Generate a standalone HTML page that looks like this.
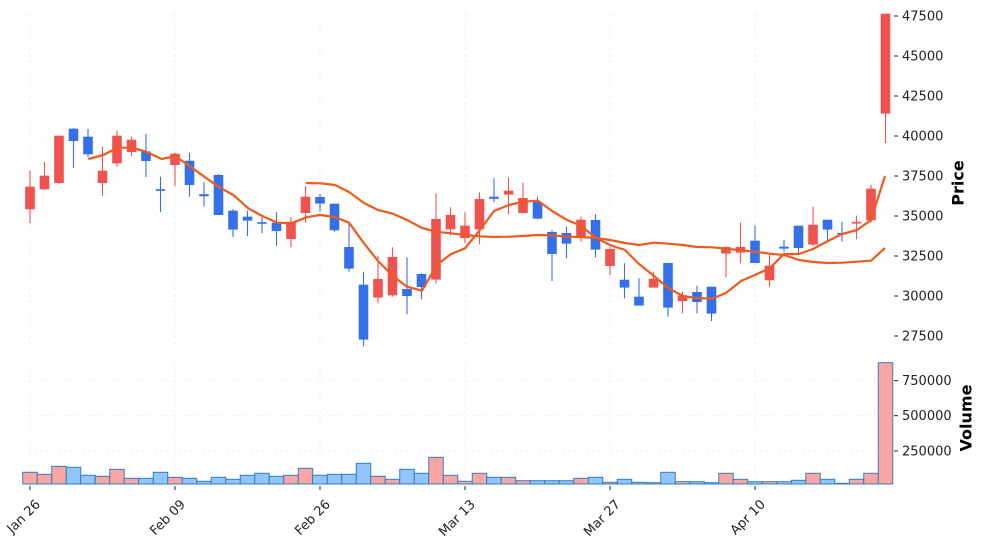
<!DOCTYPE html>
<html><head><meta charset="utf-8"><style>
html,body{margin:0;padding:0;background:#fff;}
svg{display:block;font-family:"DejaVu Sans","Liberation Sans",sans-serif;}
</style></head><body>
<svg id="s" width="987" height="549" viewBox="0 0 987 549" xmlns="http://www.w3.org/2000/svg">
<g id="grid" stroke="#ececec" stroke-width="0.7" stroke-dasharray="3,3"></g>
<g id="vol"></g>
<g id="cand"></g>
<g id="ma" fill="none" stroke="#f05a1e" stroke-width="2.2" stroke-linejoin="round"></g>
<g id="ax" font-size="13" fill="#222"></g>
<text x="959" y="183" font-size="16" font-weight="bold" text-anchor="middle" transform="rotate(-90 959 183)" dominant-baseline="middle">Price</text>
<text x="967" y="418" font-size="16" font-weight="bold" text-anchor="middle" transform="rotate(-90 967 418)" dominant-baseline="middle">Volume</text>
</svg>
<script>
var NS="http://www.w3.org/2000/svg";
function el(p,t,a,txt){var e=document.createElementNS(NS,t);for(var k in a)e.setAttribute(k,a[k]);if(txt!=null)e.textContent=txt;document.getElementById(p).appendChild(e);return e;}
var C=[
[170.7,223,187,209,'r'],[161.7,190,176,189,'r'],[135.7,184,136,182.7,'r'],[128,168,129,140.7,'b'],[129,157,137,154,'b'],
[146.7,196,171,182.7,'r'],[130.7,167,136,163,'r'],[136.7,156,140,151.7,'r'],[134,177,151.7,160.7,'b'],[176.7,212,189.5,190.5,'b'],
[152.7,186,154,164.7,'r'],[153,196.7,161,184.7,'b'],[182,206.7,194.5,196,'b'],[174,215,175.3,214.7,'b'],[209,237,211,229.3,'b'],
[210.7,236,217,220.3,'b'],[217,233.3,222.5,223.5,'b'],[212,245.7,223,230.7,'b'],[217,247.3,222,238.7,'r'],[186,222.7,197,212.7,'r'],
[194,211.7,197.3,203.3,'b'],[204,231.7,204,230,'b'],[224,271.7,247.3,268.3,'b'],[271.7,346.7,285,339.3,'b'],[256,303.3,279.3,297.3,'r'],
[247.3,296.7,257.3,295,'r'],[257.3,314.3,289.3,295.7,'b'],[273.3,299.3,274.3,286.7,'b'],[193.3,283.3,219.3,279.3,'r'],[207.3,235.7,215.3,229,'r'],
[212.3,243.3,226,237.7,'r'],[192.3,244.3,199.3,229,'r'],[178.3,202.3,197,198.5,'b'],[177.3,214.3,191,194.3,'r'],[182.3,212.7,198.3,212.7,'r'],
[196.7,219.3,202.3,218.3,'b'],[230,281,232.3,253.7,'b'],[226.7,258.3,233.3,243.3,'b'],[216.7,241.7,220,236,'r'],[214.3,257.3,220.3,249.3,'b'],
[246.7,275,249.3,265.7,'r'],[263.3,298.3,280,287.3,'b'],[278.3,305,297,305.3,'b'],[271.7,286.7,279,287.3,'r'],[263.3,316.7,263.3,307.3,'b'],
[291.7,313.3,295.7,300.7,'r'],[285.7,313.3,292.3,301.7,'b'],[286.7,321,287,313.3,'b'],[246.7,277.3,247.3,253.3,'r'],[222.3,263.3,247.3,252.3,'r'],
[225.7,262.7,241,262.7,'b'],[254,286.7,266,280,'r'],[240,251.7,247,248.3,'b'],[226,253.3,226,247.7,'b'],[206.7,246,225,244.3,'r'],
[220,240.7,220,229.3,'b'],[221.7,241.7,233.2,234.2,'b'],[215.7,239.3,222.2,223.2,'r'],[185,222.7,189,220,'r'],[14,143,14,113.3,'r']];
var V=[472.3,474.3,466.3,467.3,475.3,476.3,469.3,478.3,478.3,472.3,477.3,478.3,481.3,477.3,479.3,475.3,473.3,476.3,475.3,468.3,
475.3,474.3,474.3,463.3,476.3,479.3,469.3,473.3,457.3,475.3,481.3,473.3,477.3,477.3,480.7,480.7,480.7,480.7,478.3,477.3,
482.3,479.3,482.3,482.7,472.3,481.7,481.7,482.7,473.3,479.3,481.7,481.7,481.7,480.3,473.3,479.3,483.3,479.3,473.3,362.7];
function X(i){return 30+14.5*i;}
[16,56,96,136,176,216,256,296,336].forEach(function(y){el('grid','line',{x1:22,x2:893,y1:y,y2:y});});
[380.7,415.7,451].forEach(function(y){el('grid','line',{x1:22,x2:893,y1:y,y2:y});});
[0,10,20,30,40,50].forEach(function(i){var x=X(i);el('grid','line',{x1:x,x2:x,y1:12,y2:345});el('grid','line',{x1:x,x2:x,y1:362,y2:484});});
V.forEach(function(t,i){el('vol','rect',{x:X(i)-7.25,y:t,width:14.5,height:484-t,fill:C[i][4]=='r'?'#fca5a5':'#93c5fd',stroke:'#2f80c0','stroke-width':1});});
C.forEach(function(c,i){var x=X(i),col=c[4]=='r'?'#ef5350':'#3370ea';
el('cand','line',{x1:x,x2:x,y1:c[0],y2:c[1],stroke:col,'stroke-width':1.1});
el('cand','rect',{x:x-4.5,y:c[2],width:9,height:Math.max(1,c[3]-c[2]),fill:col,stroke:col,'stroke-width':0.6});});
var A=[[306,183],[320,183.3],[335,185],[349,192],[364,203],[378,210],[393,213.7],[407,220],[422,228],[436,231.7],[451,233.3],[465,235],[480,236.3],[494,237],[509,236.7],[523,236],[538,235],[552,235.3],[567,236.7],[581,237],[596,238],[610,240],[625,243],[639,245],[654,242.7],[668,243.7],[683,245],[697,247],[712,247.3],[726,248.7],[741,250.3],[755,251.7],[770,253.7],[784,255],[799,260],[813,262],[828,263],[842,262.7],[857,261.7],[871,260.7],[885,248]];
var B=[[88.3,159],[103.3,155],[117.3,147.7],[132.3,147.7],[146,151.7],[161.7,159],[175.3,156],[190.3,166.7],[204.3,176.7],[219.3,187.3],[233.3,195],[248.3,208.3],[262.3,216],[277.3,222.7],[291.3,223.3],[306.3,217.3],[320,215],[335,217],[349,222.7],[364,243.3],[378,261],[393,276],[407,286.7],[422,290.7],[436.7,265],[450.7,254.3],[465,248.3],[480,230],[494,211],[509,205],[523,201.7],[538,200.7],[552,211],[567,220],[581,225.7],[596,238],[610,245],[625,250],[639,264],[654,276],[668,288],[683,296],[697,298],[712,298.7],[726,293],[741,281],[755,275],[770,268],[784,254],[799,254],[813,249],[828,241],[842,234],[857,230],[871,220],[885,176]];
[A,B].forEach(function(p){el('ma','polyline',{points:p.map(function(q){return q.join(',');}).join(' ')});});
var P=[[47500,16],[45000,56],[42500,96],[40000,136],[37500,176],[35000,216],[32500,256],[30000,296],[27500,336]];
P.forEach(function(p){el('ax','line',{x1:894,x2:898,y1:p[1],y2:p[1],stroke:'#222','stroke-width':1});el('ax','text',{x:902,y:p[1]+4.5},p[0]);});
[[750000,380.7],[500000,415.7],[250000,451]].forEach(function(p){el('ax','line',{x1:894,x2:898,y1:p[1],y2:p[1],stroke:'#222','stroke-width':1});el('ax','text',{x:902,y:p[1]+4.5},p[0]);});
var L=['Jan 26','Feb 09','Feb 26','Mar 13','Mar 27','Apr 10'];
L.forEach(function(l,k){var x=X(k*10);el('ax','line',{x1:x,x2:x,y1:486,y2:490,stroke:'#222','stroke-width':1});
var ax=x+11,ay=505;el('ax','text',{x:ax,y:ay,'text-anchor':'end',transform:'rotate(-45 '+ax+' '+ay+')'},l);});
</script>
</body></html>
